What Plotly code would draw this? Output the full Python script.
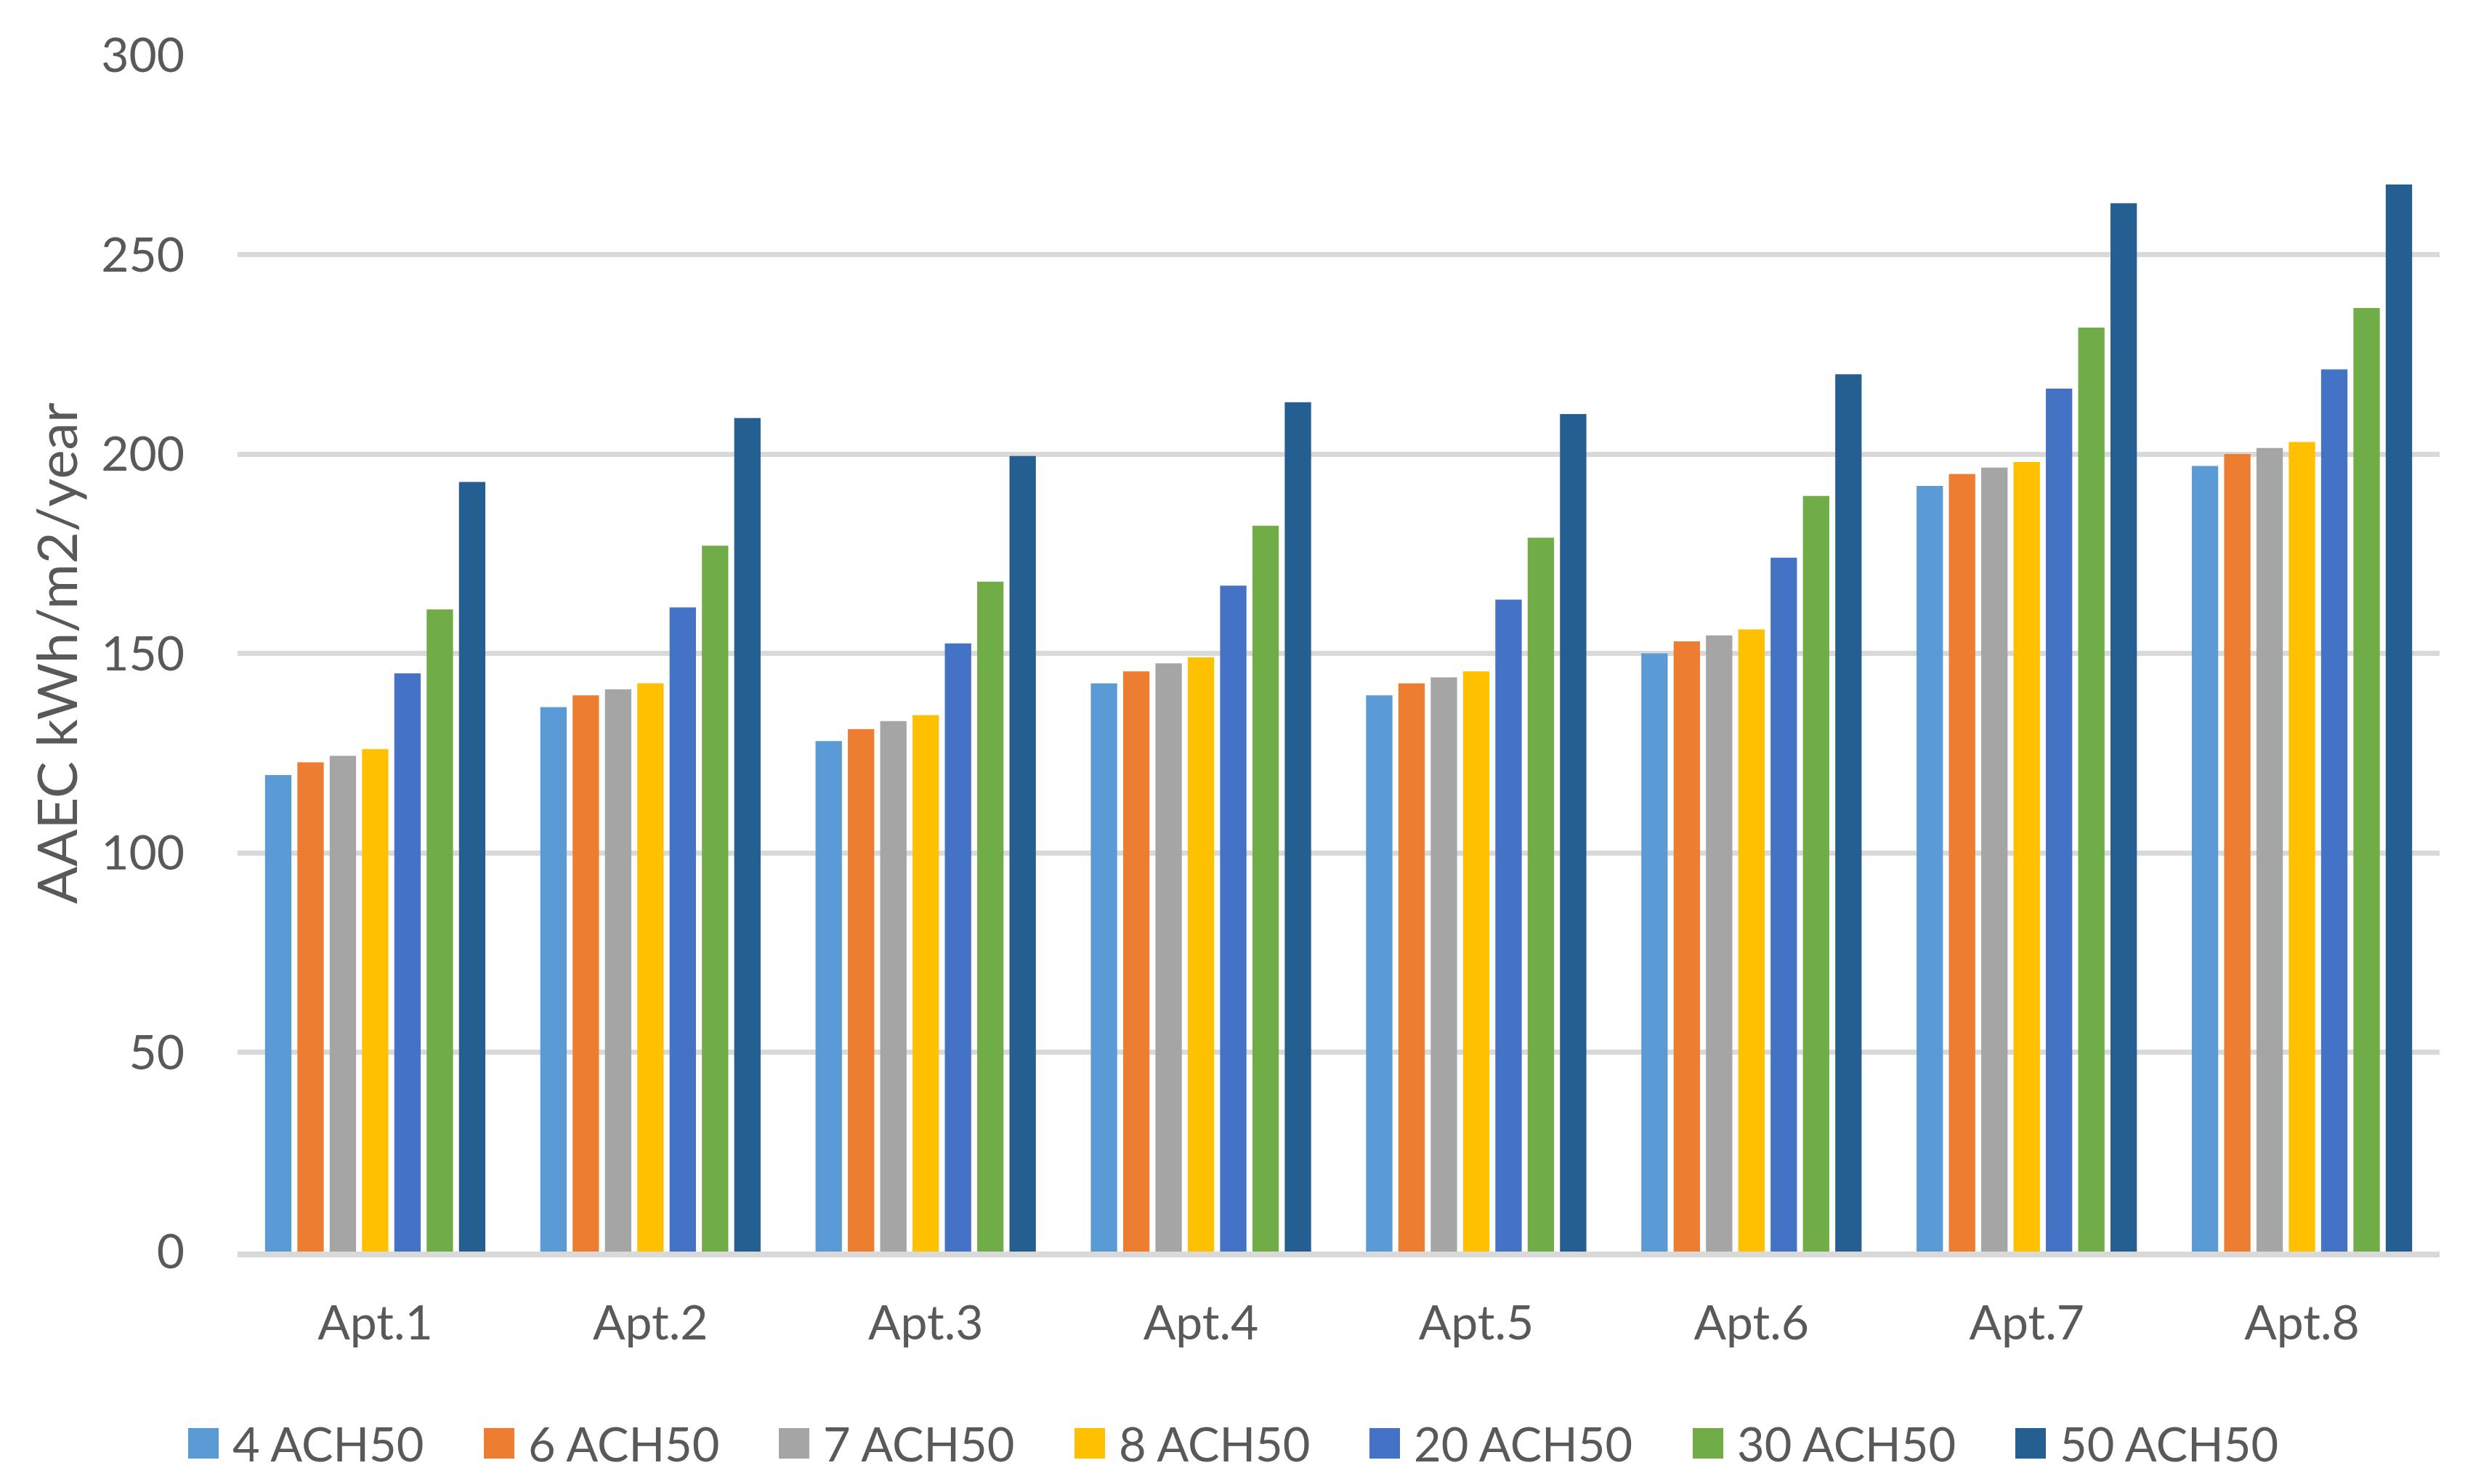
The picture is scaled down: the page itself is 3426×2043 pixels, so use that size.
import plotly.graph_objects as go

categories = ["Apt.1", "Apt.2", "Apt.3", "Apt.4", "Apt.5", "Apt.6", "Apt.7", "Apt.8"]
series_names = ["4 ACH50", "6 ACH50", "7 ACH50", "8 ACH50", "20 ACH50", "30 ACH50", "50 ACH50"]
colors = ["#5B9BD5", "#ED7D31", "#A5A5A5", "#FFC000", "#4472C4", "#70AD47", "#255E91"]

ach4 = [119.5, 136.5, 128.0, 142.5, 139.5, 150.0, 192.0, 197.0]
ach6 = [122.7, 139.5, 131.0, 145.5, 142.5, 153.0, 195.0, 200.0]
ach7 = [124.3, 141.0, 133.0, 147.5, 144.0, 154.5, 196.6, 201.5]
ach8 = [126.0, 142.5, 134.5, 149.0, 145.5, 156.0, 198.0, 203.0]
ach20 = [145.0, 161.5, 152.5, 167.0, 163.5, 174.0, 216.4, 221.2]
ach30 = [161.0, 177.0, 168.0, 182.0, 179.0, 189.5, 231.7, 236.6]
ach50 = [193.0, 209.0, 199.5, 213.0, 210.0, 220.0, 262.9, 267.6]
all_series = [ach4, ach6, ach7, ach8, ach20, ach30, ach50]

yticks = [0, 50, 100, 150, 200, 250, 300]
y_title = "AAEC kWh/m2/year"

# ---- layout constants (figure pixels; page body adds an 8px offset) ----
OFF = 8
W, H = 3426 - OFF, 2043 - OFF
ML, MR, MT, MB = 327 - OFF, 68, 76 - OFF, 320
PW, PH = W - ML - MR, H - MT - MB
font_family = "Lato, Carlito, sans-serif"
text_color = "#595959"
grid_color = "#D9D9D9"

# custom legend placement (left edge of each swatch, page px)
legend_x_px = [259, 666, 1072, 1479, 1885, 2330, 2774]
legend_y_px = 1987
swatch = 42


def px_x(px):
    return (px - OFF - ML) / PW


def px_y(py):
    return (H - MB - (py - OFF)) / PH


fig = go.Figure()
for name, vals, col in zip(series_names, all_series, colors):
    fig.add_trace(go.Bar(name=name, x=categories, y=vals, marker_color=col,
                         marker_line_width=0, showlegend=False))

shapes = []
annotations = []
for name, col, lx in zip(series_names, colors, legend_x_px):
    shapes.append(dict(type="rect", xref="paper", yref="paper",
                       x0=px_x(lx), x1=px_x(lx + swatch),
                       y0=px_y(legend_y_px + swatch / 2), y1=px_y(legend_y_px - swatch / 2),
                       fillcolor=col, line=dict(width=0)))
    annotations.append(dict(xref="paper", yref="paper", x=px_x(lx + swatch + 17),
                            y=px_y(legend_y_px), xanchor="left", yanchor="middle",
                            text=name, showarrow=False,
                            font=dict(family=font_family, size=65, color=text_color)))

annotations.append(dict(xref="paper", yref="paper", x=px_x(76), y=0.5,
                        xanchor="center", yanchor="middle", textangle=-90,
                        text=y_title, showarrow=False,
                        font=dict(family=font_family, size=76, color=text_color)))

fig.update_layout(
    width=W, height=H,
    paper_bgcolor="white", plot_bgcolor="white",
    barmode="group", bargap=0.178, bargroupgap=0.184,
    margin=dict(l=ML, r=MR, t=MT, b=MB, autoexpand=False),
    font=dict(family=font_family, size=66, color=text_color),
    showlegend=False,
    shapes=shapes,
    annotations=annotations,
)
fig.update_yaxes(range=[0, 300], tickvals=yticks, showgrid=True, gridcolor=grid_color,
                 gridwidth=7, zeroline=False, showline=False,
                 ticklabelstandoff=72,
                 tickfont=dict(family=font_family, size=66, color=text_color))
fig.update_xaxes(showline=True, linecolor=grid_color, linewidth=8, showgrid=False,
                 ticklabelstandoff=34,
                 tickfont=dict(family=font_family, size=66, color=text_color))

fig.write_html("out.html")
